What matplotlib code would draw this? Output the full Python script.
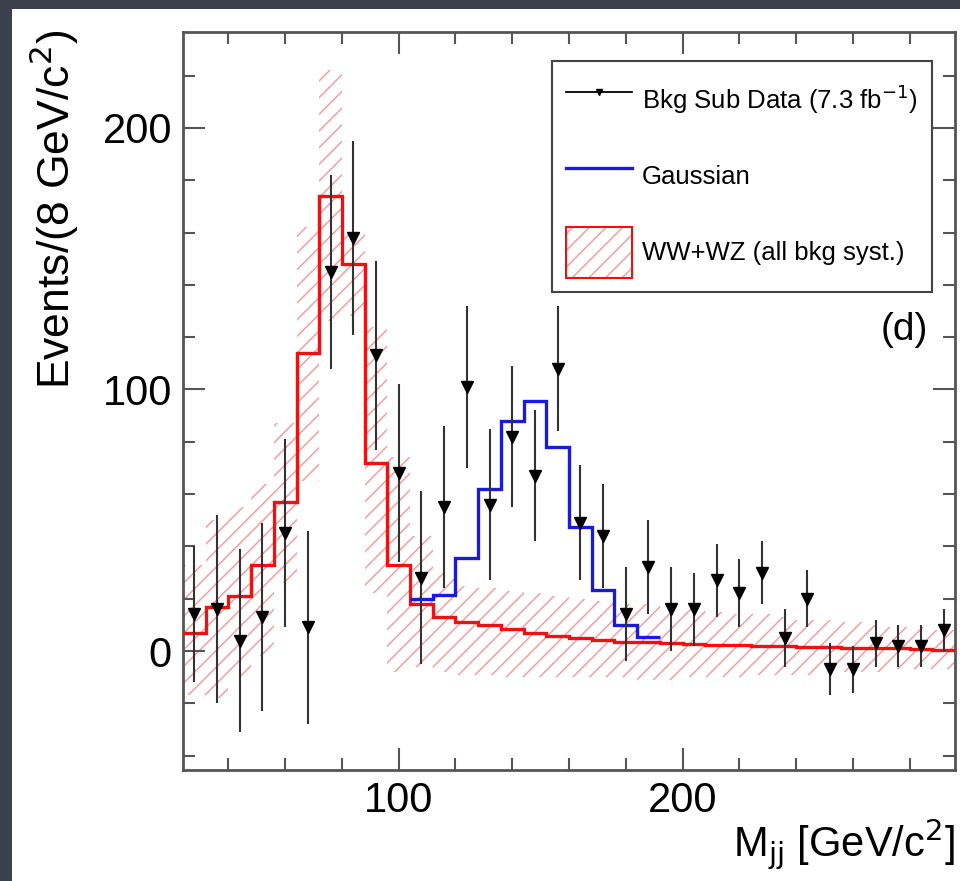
import matplotlib
matplotlib.use("Agg")
import matplotlib.pyplot as plt
from matplotlib.lines import Line2D
from matplotlib.patches import Patch, Rectangle
from matplotlib.ticker import FixedLocator, MultipleLocator

plt.rcParams['font.family'] = ['Liberation Sans', 'DejaVu Sans']
plt.rcParams['hatch.linewidth'] = 1.1

# 8 GeV bins from 24 to 296
bin_edges = [24, 32, 40, 48, 56, 64, 72, 80, 88, 96, 104, 112, 120, 128, 136, 144, 152,
             160, 168, 176, 184, 192, 200, 208, 216, 224, 232, 240, 248, 256, 264, 272,
             280, 288, 296]
bin_centers = [28, 36, 44, 52, 60, 68, 76, 84, 92, 100, 108, 116, 124, 132, 140, 148, 156,
               164, 172, 180, 188, 196, 204, 212, 220, 228, 236, 244, 252, 260, 268, 276,
               284, 292]

# background subtracted data
data = [14, 16, 4, 13, 45, 9, 145, 158, 113, 68, 28, 55, 101, 56, 82, 67, 108,
        49, 44, 14, 32, 16, 16, 27, 22, 30, 5, 20, -7, -7, 3, 2, 2, 8]
data_err = [26, 36, 35, 36, 36, 37, 37, 37, 36, 34, 33, 31, 31, 29, 27, 25, 24,
            22, 20, 18, 18, 16, 14, 14, 13, 12, 11, 11, 10, 9, 9, 8, 8, 8]

# WW+WZ expectation and its syst. band
ww_wz = [7, 17, 21, 33, 57, 114, 174, 148, 72, 33, 18, 13, 11, 10, 8.5, 7, 5.8,
         5, 4.2, 3.5, 3.3, 3.0, 2.5, 2.3, 2.2, 2.0, 1.8, 1.7, 1.5, 1.3, 1.2, 1.0, 0.9, 0.3]
syst_up = [33, 50, 55, 64, 87, 162, 222, 160, 124, 74, 44, 30, 25, 24, 23, 22, 21,
           20, 19, 18, 18, 17, 16, 15, 14, 14, 13, 12, 12, 11, 10, 9, 9, 8]
syst_lo = [-17, -18, -10, -2, 26, 65, 126, 128, 22, -8, -6, -8, -9, -9, -10, -10, -10,
           -10, -10, -10, -11, -11, -10, -10, -10, -9, -9, -9, -8, -8, -8, -7, -7, -7]

# Gaussian on top of WW+WZ, bins 104-192
gauss_edges = [104, 112, 120, 128, 136, 144, 152, 160, 168, 176, 184, 192]
gauss = [20, 21.5, 35.5, 62, 88, 95.5, 78, 47.5, 23.5, 10, 5.5]

red = '#ee1111'
hatch_red = '#f4a0a0'
blue = '#1a1ad8'

fig = plt.figure(figsize=(9.6, 8.81), dpi=100, facecolor='#3b404c')
fig.patches.append(Rectangle((12 / 960, 0), 1, 1 - 9 / 881, transform=fig.transFigure,
                             facecolor='white', edgecolor='none', zorder=-10))
ax = fig.add_axes([183 / 960, 1 - 770 / 881, (955 - 183) / 960, (770 - 32) / 881])
ax.set_facecolor('white')

ax.stairs(syst_up, bin_edges, baseline=syst_lo, fill=True, facecolor='none',
          edgecolor=hatch_red, hatch='//', linewidth=0, zorder=1)
ax.stairs(ww_wz, bin_edges, baseline=None, color=red, linewidth=2.4, zorder=3)
ax.stairs(gauss, gauss_edges, baseline=None, color=blue, linewidth=2.4, zorder=4)
ax.errorbar(bin_centers, data, yerr=data_err, fmt='v', color='black', ecolor='#333333',
            elinewidth=1.5, markersize=8, capsize=0, zorder=5)

ax.set_xlim(24, 296)
ax.set_ylim(-45.5, 236.7)

ax.xaxis.set_major_locator(FixedLocator([100, 200]))
ax.xaxis.set_minor_locator(MultipleLocator(20))
ax.yaxis.set_major_locator(FixedLocator([0, 100, 200]))
ax.yaxis.set_minor_locator(MultipleLocator(20))
ax.tick_params(which='both', direction='in', top=True, right=True, color='#555555', width=1.5)
ax.tick_params(which='major', length=16, labelsize=30, pad=8)
ax.tick_params(which='minor', length=8.5)
for sp in ax.spines.values():
    sp.set_color('#555555')
    sp.set_linewidth(2)

fig.text(54 / 960, 1 - 30 / 881, 'Events/(8 GeV/c$^{2}$)', rotation=90, ha='center',
         va='top', fontsize=32)
fig.text(955 / 960, 1 - 857 / 881, 'M$_{\\mathrm{jj}}$ [GeV/c$^{2}$]', ha='right',
         va='baseline', fontsize=30)
ax.text(0.965, 0.596, '(d)', transform=ax.transAxes, ha='right', va='center', fontsize=28)

# legend
h_data = Line2D([], [], color='black', lw=1.3, marker='v', markersize=5)
h_gauss = Line2D([], [], color=blue, lw=2.4)
h_band = (Patch(facecolor='none', edgecolor=hatch_red, hatch='//', lw=0),
          Patch(facecolor='none', edgecolor=red, lw=1.5))
leg = ax.legend([h_data, h_gauss, h_band],
                ['Bkg Sub Data (7.3 fb$^{-1}$)', 'Gaussian', 'WW+WZ (all bkg syst.)'],
                loc='upper left', bbox_to_anchor=(552 / 960, 1 - 61 / 881),
                bbox_transform=fig.transFigure, fontsize=18.5, frameon=True,
                fancybox=False, framealpha=1, edgecolor='#444444', handlelength=2.55,
                handleheight=2.7, labelspacing=0.95, borderpad=0.55, handletextpad=0.4,
                borderaxespad=0)
leg.get_frame().set_linewidth(1.5)

plt.savefig('out.png', dpi=100, facecolor=fig.get_facecolor())
